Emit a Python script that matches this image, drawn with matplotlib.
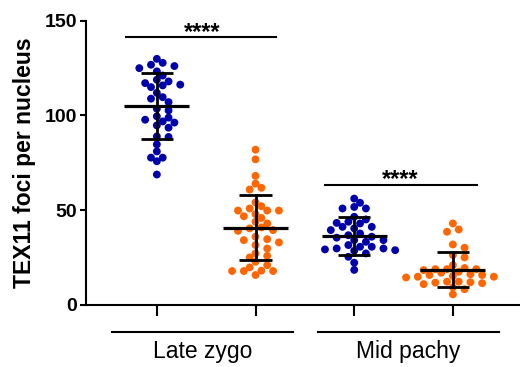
import numpy as np
import matplotlib
matplotlib.use('Agg')
import matplotlib.pyplot as plt
import matplotlib.transforms as mtransforms

plt.rcParams['font.family'] = ['Liberation Sans', 'DejaVu Sans']

# values (TEX11 foci per nucleus)
late_zygo_blue = [129.8, 127.7, 126.7, 126.0, 124.9, 123.2, 121.0, 118.8, 117.9, 117.0,
                  116.2, 115.8, 114.9, 111.9, 109.6, 108.8, 107.0, 103.5, 102.6, 99.5,
                  98.8, 97.7, 96.8, 96.2, 94.7, 93.5, 88.9, 88.6, 84.7, 81.0,
                  77.7, 77.7, 75.8, 68.8]
late_zygo_orange = [81.9, 76.8, 68.1, 64.0, 61.8, 60.9, 54.1, 52.1, 50.9, 49.8,
                    49.8, 49.8, 47.9, 46.8, 45.9, 43.9, 43.0, 40.9, 40.4, 39.5,
                    39.1, 36.0, 34.7, 34.2, 33.0, 31.6, 29.8, 27.2, 25.9, 25.1,
                    22.8, 21.0, 19.8, 18.1, 17.9, 17.9, 17.9, 15.8]
mid_pachy_blue = [56.1, 53.9, 51.7, 50.9, 50.9, 46.5, 45.1, 43.9, 43.3, 43.0,
                  41.2, 41.2, 40.4, 39.5, 37.7, 36.8, 36.0, 35.5, 34.2, 34.2,
                  33.3, 31.6, 30.7, 30.7, 29.8, 29.8, 29.3, 28.9, 28.6, 27.2,
                  25.4, 22.3, 18.5]
mid_pachy_orange = [43.0, 39.8, 38.6, 31.9, 30.2, 26.3, 25.1, 21.0, 19.5, 18.9,
                    18.9, 18.9, 18.4, 17.5, 17.0, 16.2, 15.8, 15.8, 15.3, 14.9,
                    14.9, 14.5, 12.3, 12.3, 12.0, 11.8, 11.5, 11.0, 9.3, 8.3,
                    5.6]

groups = [late_zygo_blue, late_zygo_orange, mid_pachy_blue, mid_pachy_orange]
colors = ['#0000AA', '#FF6600', '#0000AA', '#FF6600']
means = [105.0, 40.8, 36.6, 18.5]
sds = [17.5, 17.0, 10.0, 9.2]
group_labels = ['Late zygo', 'Mid pachy']


def swarm_x(ax, xc, vals, grid_px=5.85, min_px=6.8):
    # simple beeswarm on a half-step grid, done in pixel space
    vals = np.asarray(vals, dtype=float)
    pts = ax.transData.transform(np.column_stack([np.full(len(vals), xc), vals]))
    ypx = pts[:, 1]
    order = np.argsort(-vals)
    placed = []
    xpx = np.zeros(len(vals))
    cands = [0.0]
    for k in range(1, 20):
        cands += [k * grid_px, -k * grid_px]
    for i in order:
        for c in cands:
            ok = True
            for (px, py) in placed:
                if (px - c) ** 2 + (py - ypx[i]) ** 2 < min_px ** 2:
                    ok = False
                    break
            if ok:
                xpx[i] = c
                placed.append((c, ypx[i]))
                break
    x0 = ax.transData.transform((xc, 0))[0]
    xs = ax.transData.inverted().transform(np.column_stack([x0 + xpx, ypx]))[:, 0]
    return xs


fig = plt.figure(figsize=(5.2, 3.67), dpi=100)
ax = fig.add_axes([0.165, 0.169, 0.835, 0.775])
ax.set_xlim(-0.72, 3.68)
ax.set_ylim(0, 150)

for i, vals in enumerate(groups):
    xs = swarm_x(ax, i, vals)
    ax.scatter(xs, vals, s=32, color=colors[i], edgecolors='none', zorder=2)
    m, s = means[i], sds[i]
    ax.plot([i - 0.33, i + 0.33], [m, m], color='black', lw=2.3, zorder=3, solid_capstyle='butt')
    ax.plot([i, i], [m - s, m + s], color='black', lw=2.0, zorder=3)
    ax.plot([i - 0.165, i + 0.165], [m + s, m + s], color='black', lw=2.0, zorder=3, solid_capstyle='butt')
    ax.plot([i - 0.165, i + 0.165], [m - s, m - s], color='black', lw=2.0, zorder=3, solid_capstyle='butt')

# significance bars
ax.plot([-0.31, 1.21], [141.2, 141.2], color='black', lw=1.5)
ax.text(0.46, 143.8, '****', ha='center', va='center', fontsize=17, fontweight='bold')
ax.plot([1.70, 3.24], [63.5, 63.5], color='black', lw=1.5)
ax.text(2.47, 66.1, '****', ha='center', va='center', fontsize=17, fontweight='bold')

ax.set_yticks([0, 50, 100, 150])
ax.set_xticks([0, 1, 2, 3])
ax.set_xticklabels([])
for lab in ax.get_yticklabels():
    lab.set_fontweight('bold')
ax.tick_params(axis='y', labelsize=14, width=1.5, length=4.5, pad=2)
ax.tick_params(axis='x', width=1.5, length=8)
ax.spines['top'].set_visible(False)
ax.spines['right'].set_visible(False)
ax.spines['left'].set_linewidth(1.5)
ax.spines['bottom'].set_linewidth(1.5)
ax.set_ylabel('TEX11 foci per nucleus', fontsize=16.5, fontweight='bold', labelpad=6)

# group lines under the axis
trans = mtransforms.blended_transform_factory(ax.transData, ax.transAxes)
for (x0, x1), lab in zip([(-0.456, 1.378), (1.631, 3.465)], group_labels):
    ax.plot([x0, x1], [-0.095, -0.095], color='black', lw=1.5, transform=trans, clip_on=False)
    ax.text((x0 + x1) / 2, -0.165, lab, transform=trans, ha='center', va='center', fontsize=16.5)

fig.savefig('out.png', dpi=100)
